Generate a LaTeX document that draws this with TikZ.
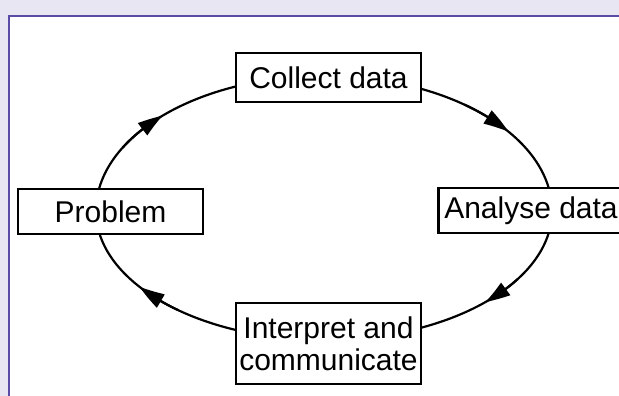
\documentclass[tikz,border=0pt]{standalone}
\usepackage{fontspec}
\setmainfont{Liberation Sans}
\usetikzlibrary{arrows.meta,calc,bending}
\definecolor{bglav}{HTML}{E8E6F2}
\definecolor{frameblue}{HTML}{5A4CA6}
\begin{document}
\begin{tikzpicture}[x=1pt,y=1pt,
  stagebox/.style={draw=black, line width=2.2pt, fill=white, inner sep=0pt,
    minimum width=185pt, font=\fontsize{30}{32}\selectfont, align=center},
  cycleline/.style={line width=2.2pt, draw=black},
  tipper/.style={line width=2.2pt, draw=black, -{Triangle[length=25pt,width=15pt,bend]}}]
\useasboundingbox (0,0) rectangle (619,396);
\clip (0,0) rectangle (619,396);
\fill[bglav] (0,0) rectangle (619,396);
\filldraw[fill=white, draw=frameblue, line width=1.8pt] (8.9,-10) rectangle (640,380.2);
% cycle (ellipse arcs)
\coordinate (E) at (324,185);
\coordinate (pl) at ($(E)+(180:228pt and 135pt)$);
\coordinate (pt) at ($(E)+(90:228pt and 135pt)$);
\coordinate (pr) at ($(E)+(0:228pt and 135pt)$);
\coordinate (pb) at ($(E)+(-90:228pt and 129pt)$);
\draw[cycleline] (pl) arc[start angle=180,end angle=90,x radius=228pt,y radius=135pt];
\draw[cycleline] (pt) arc[start angle=90,end angle=0,x radius=228pt,y radius=135pt];
\draw[cycleline] (pr) arc[start angle=0,end angle=-90,x radius=228pt,y radius=129pt];
\draw[cycleline] (pb) arc[start angle=-90,end angle=-180,x radius=228pt,y radius=129pt];
% arrowheads
\coordinate (a1) at ($(E)+(152:228pt and 135pt)$);
\coordinate (a2) at ($(E)+(52:228pt and 135pt)$);
\coordinate (a3) at ($(E)+(-32:228pt and 129pt)$);
\coordinate (a4) at ($(E)+(-130:228pt and 129pt)$);
\draw[tipper] (a1) arc[start angle=152,end angle=135,x radius=228pt,y radius=135pt];
\draw[tipper] (a2) arc[start angle=52,end angle=36,x radius=228pt,y radius=135pt];
\draw[tipper] (a3) arc[start angle=-32,end angle=-45,x radius=228pt,y radius=129pt];
\draw[tipper] (a4) arc[start angle=-130,end angle=-144,x radius=228pt,y radius=129pt];
% stages
\node[stagebox, minimum height=49pt] (collect) at (328.5,318.5) {Collect data};
\node[stagebox, minimum height=45pt] (problem) at (110.5,184.5) {Problem};
\node[stagebox, minimum height=45pt] (analyse) at (531,185.5) {Analyse data};
\node[stagebox, minimum height=81pt] (interp) at (328.5,52.5) {Interpret and\\communicate};
\end{tikzpicture}
\end{document}
